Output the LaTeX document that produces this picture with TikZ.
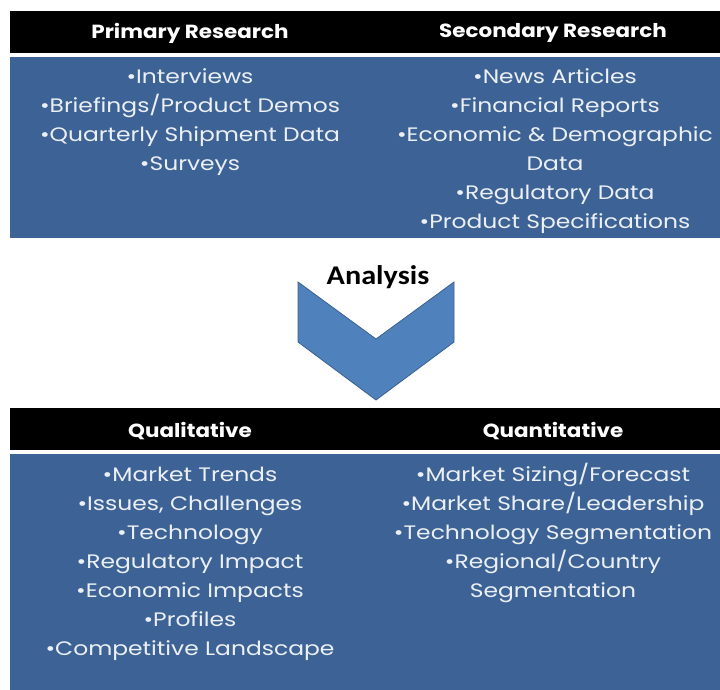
\documentclass[tikz,border=0pt]{standalone}
\usepackage{fontspec}
\setmainfont{Poppins}
\newfontfamily\bodyfont[FakeStretch=1.2]{Poppins}
\newfontfamily\hdrfont[FakeStretch=1.13]{Poppins}
\newfontfamily\chevfont[FakeStretch=1.12]{Carlito}
\definecolor{bandblue}{RGB}{61,99,150}
\definecolor{chevblue}{RGB}{79,129,189}
\definecolor{chevedge}{RGB}{58,96,142}
\definecolor{txtwhite}{RGB}{236,240,244}
\newcommand{\fl}{\rule{0pt}{20pt}}
\tikzset{
  hdrtext/.style={text=white,font=\hdrfont\fontsize{19}{22}\selectfont\bfseries,inner sep=0pt,anchor=center},
  bodytext/.style={text=txtwhite,font=\bodyfont\fontsize{19.5}{29}\selectfont,align=center,inner sep=0pt,anchor=north},
  blackbar/.style={fill=black},
  blueband/.style={fill=bandblue}
}
\begin{document}
\begin{tikzpicture}[x=1pt,y=1pt]
\useasboundingbox (0,0) rectangle (720,-690);
\fill[white] (0,0) rectangle (720,-690);
% top section
\fill[blackbar] (10,-11) rectangle (720,-53);
\fill[blueband] (10,-57) rectangle (720,-238);
\node[hdrtext] (primh) at (190,-33) {Primary Research};
\node[hdrtext] (sech) at (553,-33) {Secondary Research};
\node[bodytext] (primb) at (190,-63) {\fl•Interviews\\•Briefings/Product Demos\\•Quarterly Shipment Data\\•Surveys};
\node[bodytext] (secb) at (555,-63) {\fl•News Articles\\•Financial Reports\\•Economic \& Demographic\\Data\\•Regulatory Data\\•Product Specifications};
% chevron
\fill[chevblue,draw=chevedge,line width=0.8pt] (298,-282) -- (376,-339) -- (454,-282) -- (454,-342) -- (376,-400) -- (298,-342) -- cycle;
\node[font=\chevfont\fontsize{27}{30}\selectfont\bfseries,text=black,inner sep=0pt] (anal) at (378,-277) {Analysis};
% bottom section
\fill[blackbar] (10,-408) rectangle (720,-450);
\fill[blueband] (10,-454) rectangle (720,-690);
\node[hdrtext] (qualh) at (190,-431) {Qualitative};
\node[hdrtext] (quanh) at (553,-431) {Quantitative};
\node[bodytext] (qualb) at (190,-461) {\fl•Market Trends\\•Issues, Challenges\\•Technology\\•Regulatory Impact\\•Economic Impacts\\•Profiles\\•Competitive Landscape};
\node[bodytext] (quanb) at (553,-461) {\fl•Market Sizing/Forecast\\•Market Share/Leadership\\•Technology Segmentation\\•Regional/Country\\Segmentation};
\end{tikzpicture}
\end{document}
